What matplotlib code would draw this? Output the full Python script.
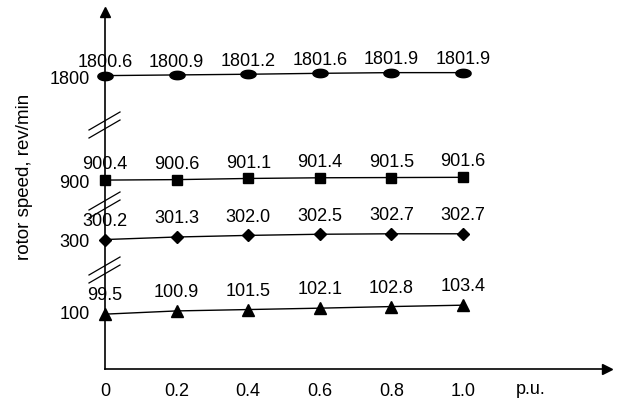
import matplotlib
matplotlib.use('Agg')
import matplotlib.pyplot as plt
from matplotlib.path import Path
import numpy as np

# data
load_pu = [0, 0.2, 0.4, 0.6, 0.8, 1.0]
speed_1800 = [1800.6, 1800.9, 1801.2, 1801.6, 1801.9, 1801.9]
speed_900 = [900.4, 900.6, 901.1, 901.4, 901.5, 901.6]
speed_300 = [300.2, 301.3, 302.0, 302.5, 302.7, 302.7]
speed_100 = [99.5, 100.9, 101.5, 102.1, 102.8, 103.4]
y_ticks = [100, 300, 900, 1800]
x_ticks = [0, 0.2, 0.4, 0.6, 0.8, 1.0]
x_ticklabels = ['0', '0.2', '0.4', '0.6', '0.8', '1.0']

plt.rcParams['font.family'] = ['Liberation Sans', 'DejaVu Sans']
FS = 13

# broken y axis: piecewise linear scale, each band 2.3 px per rev/min
knot_v = np.array([75.65, 112, 290, 312, 890, 912, 1790, 1830])
knot_p = np.array([0, 83.6, 106, 156.6, 165, 215.6, 269, 361])

def fwd(v):
    return np.interp(v, knot_v, knot_p)

def inv(p):
    return np.interp(p, knot_p, knot_v)

W, H = 619, 403
fig = plt.figure(figsize=(W / 100, H / 100), dpi=100)
ax0, ay0, ax1, ay1 = 105, 369, 607, 12  # axis pixel extents
ax = fig.add_axes([ax0 / W, (H - ay0) / H, (ax1 - ax0) / W, (ay0 - ay1) / H])
ax.set_yscale('function', functions=(fwd, inv))
ax.set_xlim(0, (ax1 - ax0) / 358.0)
ax.set_ylim(inv(0), inv(357))

# ellipse marker for the top series
t = np.linspace(0, 2 * np.pi, 40)
ellipse = Path(np.column_stack([np.cos(t), 0.55 * np.sin(t)]))

series = [
    (speed_1800, ellipse, 11, 3),
    (speed_900, 's', 6.5, 5),
    (speed_300, 'D', 6.5, 7),
    (speed_100, '^', 9, 7),
]
for vals, mk, ms, dy in series:
    ax.plot(load_pu, vals, color='black', lw=1.0, marker=mk, ms=ms,
            clip_on=False, zorder=3)
    for x, v in zip(load_pu, vals):
        ax.annotate(f'{v:.1f}', (x, v), xytext=(0, dy), textcoords='offset points',
                    ha='center', va='bottom', fontsize=FS)

for s in ['top', 'right']:
    ax.spines[s].set_visible(False)
for s in ['left', 'bottom']:
    ax.spines[s].set_linewidth(1.2)

# arrow heads
ax.plot([0], [1], marker='^', ms=7, color='black', transform=ax.transAxes, clip_on=False)
ax.plot([1], [0], marker='>', ms=7, color='black', transform=ax.transAxes, clip_on=False)

ax.set_yticks(y_ticks)
ax.set_yticklabels([str(v) for v in y_ticks], fontsize=FS)
ax.yaxis.set_minor_locator(matplotlib.ticker.NullLocator())
ax.set_xticks(x_ticks)
ax.set_xticklabels(x_ticklabels, fontsize=FS)
ax.tick_params(length=0)
ax.tick_params(axis='y', pad=11)
ax.tick_params(axis='x', pad=10)

# break marks (pixel positions on the left spine)
def px(x, y):
    return ((x - ax0) / (ax1 - ax0), (ay0 - y) / (ay0 - ay1))

for yc in [125, 205, 270]:
    for off in [-4, 4]:
        p0 = px(89, yc + 9 + off)
        p1 = px(120, yc - 9 + off)
        ax.plot([p0[0], p1[0]], [p0[1], p1[1]], color='black', lw=0.9,
                transform=ax.transAxes, clip_on=False)

fig.text(25 / W, 1 - 177 / H, 'rotor speed, rev/min', rotation=90,
         ha='center', va='center', fontsize=FS + 0.5)
fig.text(531 / W, 1 - 389 / H, 'p.u.', ha='center', va='center', fontsize=FS)

fig.savefig('out.png', dpi=100)
